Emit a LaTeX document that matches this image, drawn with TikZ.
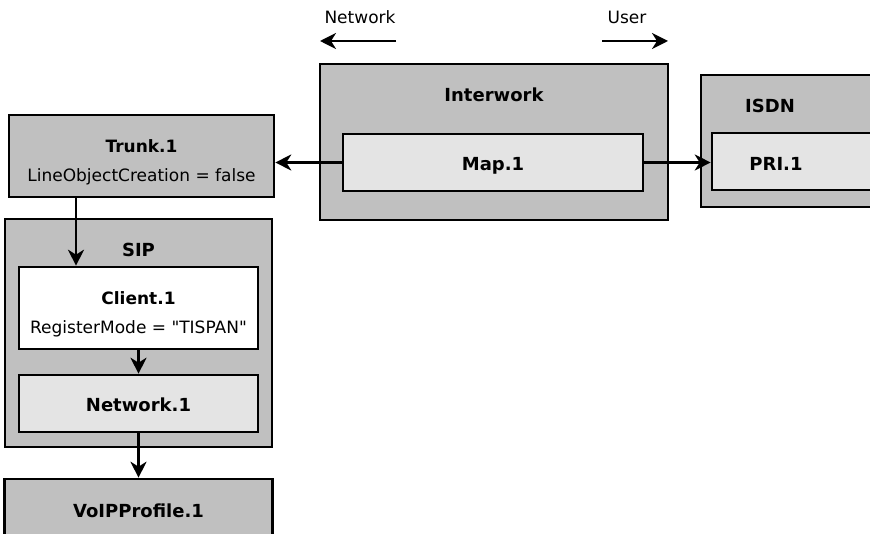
\documentclass[tikz,border=0pt]{standalone}
\usepackage{fontspec}
\setmainfont{DejaVu Sans}[Ligatures=TeXOff]
\usetikzlibrary{arrows.meta, positioning}
\definecolor{outergray}{RGB}{192,192,192}
\definecolor{innergray}{RGB}{228,228,228}
\newcommand{\firstline}{\rule{0pt}{25pt}}
\tikzset{
  outerbox/.style={draw, line width=2.6pt, fill=outergray, inner sep=0pt},
  innerbox/.style={draw, line width=2.6pt, fill=innergray, inner sep=0pt, text height=16pt, text depth=0pt, font=\bfseries\fontsize{18}{20}\selectfont},
  objbox/.style={draw, line width=2.6pt, inner sep=0pt, align=center, font=\fontsize{17}{29}\selectfont},
  title/.style={font=\bfseries\fontsize{18}{20}\selectfont, inner sep=0pt},
  hint/.style={font=\fontsize{17}{20}\selectfont, inner sep=0pt},
  flow/.style={line width=2.4pt, -{Stealth[length=16pt,width=16pt,inset=5pt]}}
}
\begin{document}
\begin{tikzpicture}[x=1pt,y=-1pt]
  \useasboundingbox (0,0) rectangle (870,534);
  \clip (0,0) rectangle (870,534);

  % direction hints
  \node[hint] (netlbl) at (360,17) {Network};
  \node[hint] (userlbl) at (627,17) {User};
  \coordinate (netL) at (320,41);
  \coordinate (netR) at (396,41);
  \coordinate (userL) at (602,41);
  \coordinate (userR) at (668,41);
  \draw[flow] (netR) -- (netL);
  \draw[flow] (userL) -- (userR);

  % interwork
  \node[outerbox, minimum width=348pt, minimum height=156pt] (interwork) at (494,142) {};
  \node[title] (interworkT) at (494,95) {Interwork};
  \node[innerbox, minimum width=300pt, minimum height=57pt] (map) at (493,162.5) {Map.1};

  % isdn (runs off the right edge)
  \node[outerbox, minimum width=190pt, minimum height=132pt] (isdn) at (796,141) {};
  \node[title] (isdnT) at (770,106) {ISDN};
  \node[innerbox, minimum width=170pt, minimum height=57pt] (pri) at (797,161.5) {};
  \node[title] (priT) at (776,164) {PRI.1};

  % trunk
  \node[objbox, fill=outergray, minimum width=265pt, minimum height=82pt] (trunk) at (141.5,156)
    {\firstline\textbf{Trunk.1}\\LineObjectCreation = false};

  % sip
  \node[outerbox, minimum width=267pt, minimum height=228pt] (sip) at (138.5,333) {};
  \node[title] (sipT) at (138.5,250) {SIP};
  \node[objbox, fill=white, minimum width=239pt, minimum height=82pt] (client) at (138.5,308)
    {\firstline\textbf{Client.1}\\RegisterMode = "TISPAN"};
  \node[innerbox, minimum width=239pt, minimum height=57pt] (net) at (138.5,403.5) {Network.1};

  % voip profile (runs off the bottom edge)
  \node[innerbox, fill=outergray, minimum width=268pt, minimum height=60pt] (voip) at (138.5,509) {VoIPProfile.1};

  \draw[flow] (map.west) -- (map.west -| trunk.east);
  \draw[flow] (map.east) -- (map.east -| pri.west);
  \draw[flow] ([xshift=-62.5pt]client.north |- trunk.south) -- ([xshift=-62.5pt]client.north);
  \draw[flow] (client.south) -- (net.north);
  \draw[flow] (net.south) -- (voip.north);
\end{tikzpicture}
\end{document}
